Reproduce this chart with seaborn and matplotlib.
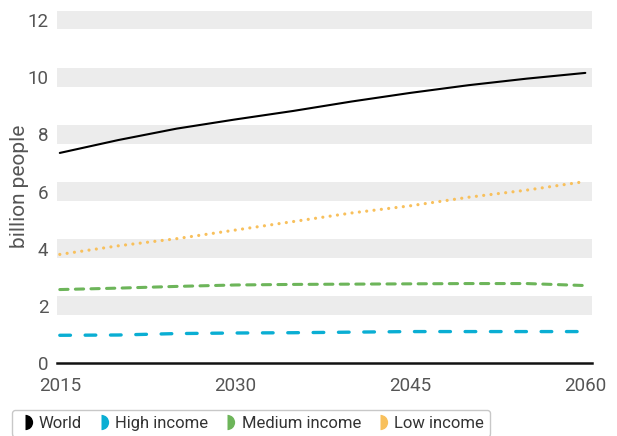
"""Population projection by income group, 2015-2060."""

import pandas as pd
import matplotlib.pyplot as plt
import seaborn as sns

# Data (billion people)
years = [2015, 2020, 2025, 2030, 2035, 2040, 2045, 2050, 2055, 2060]
world = [7.35, 7.80, 8.20, 8.52, 8.82, 9.15, 9.45, 9.72, 9.95, 10.15]
high_income = [0.97, 0.98, 1.03, 1.05, 1.06, 1.08, 1.10, 1.10, 1.10, 1.10]
medium_income = [2.57, 2.62, 2.68, 2.73, 2.75, 2.76, 2.77, 2.78, 2.78, 2.71]
low_income = [3.80, 4.10, 4.35, 4.65, 4.95, 5.25, 5.50, 5.80, 6.05, 6.35]

series_names = ['World', 'High income', 'Medium income', 'Low income']
y_ticks = [0, 2, 4, 6, 8, 10, 12]
x_ticks = [2015, 2030, 2045, 2060]

colors = {
    'World': '#000000',
    'High income': '#0aaed3',
    'Medium income': '#6db55a',
    'Low income': '#f8c05c',
}
# (linewidth in points, dash pattern in linewidth units)
styles = {
    'World': (1.5, None),
    'High income': (2.4, (3.2, 4.4)),
    'Medium income': (2.2, (2.7, 2.4)),
    'Low income': (2.3, (0.01, 2.3)),
}

df = pd.DataFrame({
    'year': years * 4,
    'value': world + high_income + medium_income + low_income,
    'series': [s for s in series_names for _ in years],
})

sns.set_style('white')
plt.rcParams['font.family'] = ['Roboto', 'DejaVu Sans']

fig = plt.figure(figsize=(6.17, 4.36), dpi=100)
ax = fig.add_axes([0.092, 0.1674, 0.868, 0.8096])

# grey bands around each y tick
for v in y_ticks[1:]:
    ax.axhspan(v - 0.33, v + 0.33, color='#ececec', lw=0, zorder=0)

for name in series_names:
    lw, dash = styles[name]
    sns.lineplot(
        data=df[df['series'] == name],
        x='year', y='value',
        color=colors[name], linewidth=lw, ax=ax, label=name, legend=False,
    )
    line = ax.lines[-1]
    if dash is not None:
        line.set_dashes(dash)
        line.set_dash_capstyle('round')
    line.set_solid_capstyle('round')

ax.set_xlim(2014.74, 2060.6)
ax.set_ylim(0, 12.35)
ax.set_xticks(x_ticks)
ax.set_yticks(y_ticks)
ax.tick_params(axis='both', length=0, labelsize=13.5, colors='#555555')
ax.tick_params(axis='y', pad=6)
ax.tick_params(axis='x', pad=10)
ax.set_xlabel('')
ax.set_ylabel('billion people', fontsize=15, color='#555555')
ax.yaxis.set_label_coords(-0.052, 0.5)

for side in ['top', 'right', 'left']:
    ax.spines[side].set_visible(False)
ax.spines['bottom'].set_color('#111111')
ax.spines['bottom'].set_linewidth(1.8)

# legend with half-circle markers
handles = [
    plt.Line2D([], [], marker='o', linestyle='none', markersize=11,
               fillstyle='right', markerfacecolor=colors[n],
               markerfacecoloralt='none', markeredgewidth=0)
    for n in series_names
]
leg = fig.legend(
    handles, series_names, loc='upper left',
    bbox_to_anchor=(12 / 617, 1 - 410 / 436), ncol=4,
    frameon=True, fancybox=True, fontsize=12, handlelength=0.8,
    handletextpad=0.45, columnspacing=0.75, borderpad=0.35,
    labelcolor='#333333', borderaxespad=0,
)
leg.get_frame().set_edgecolor('#bbbbbb')
leg.get_frame().set_linewidth(1.0)

fig.savefig('out.png', dpi=100)
plt.close(fig)
